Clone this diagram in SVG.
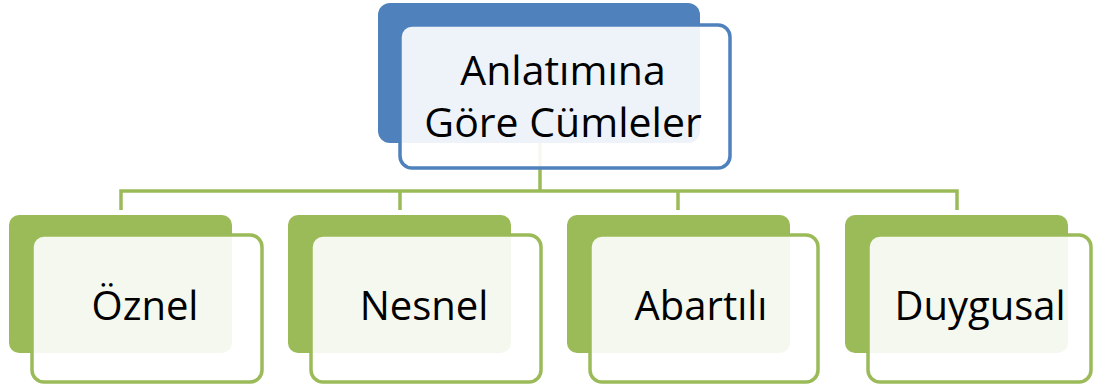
<svg xmlns="http://www.w3.org/2000/svg" width="1094" height="388" viewBox="0 0 1094 388">
<style>
.conn{fill:none;stroke:#9BBB59;stroke-width:3.5}
.bb{fill:#4F81BD}
.bf{fill:#FFFFFF;fill-opacity:0.9;stroke:#4F81BD;stroke-width:3.5}
.gb{fill:#9BBB59}
.gf{fill:#FFFFFF;fill-opacity:0.9;stroke:#9BBB59;stroke-width:3.5}
text{font-family:"Open Sans","Liberation Sans",Arial,sans-serif;fill:#000;text-anchor:middle}
.t1{font-size:41px}
.t2{font-size:40px}
</style>
<rect width="1094" height="388" fill="#FFFFFF"/>
<g id="connectors">
<path class="conn" d="M540,143 V191"/>
<path class="conn" d="M121,210 V191 H957 V210"/>
<path class="conn" d="M400,191 V210"/>
<path class="conn" d="M678,191 V210"/>
</g>
<g id="node-root">
<rect class="bb" x="378" y="3" width="322" height="140" rx="12"/>
<rect class="bf" x="400" y="25" width="330" height="143" rx="12"/>
<text class="t1" x="563" y="85">Anlatımına</text>
<text class="t1" x="563" y="137">Göre Cümleler</text>
</g>
<g id="node-oznel">
<rect class="gb" x="9" y="215" width="223" height="138" rx="10"/>
<rect class="gf" x="32" y="235" width="230" height="147" rx="12"/>
<text class="t2" x="145" y="320">Öznel</text>
</g>
<g id="node-nesnel">
<rect class="gb" x="288" y="215" width="223" height="138" rx="10"/>
<rect class="gf" x="311" y="235" width="230" height="147" rx="12"/>
<text class="t2" x="424" y="320">Nesnel</text>
</g>
<g id="node-abartili">
<rect class="gb" x="567" y="215" width="223" height="138" rx="10"/>
<rect class="gf" x="590" y="235" width="228" height="147" rx="12"/>
<text class="t2" x="701" y="320">Abartılı</text>
</g>
<g id="node-duygusal">
<rect class="gb" x="845" y="215" width="223" height="138" rx="10"/>
<rect class="gf" x="868" y="235" width="223" height="147" rx="12"/>
<text class="t2" x="980" y="320">Duygusal</text>
</g>
</svg>
